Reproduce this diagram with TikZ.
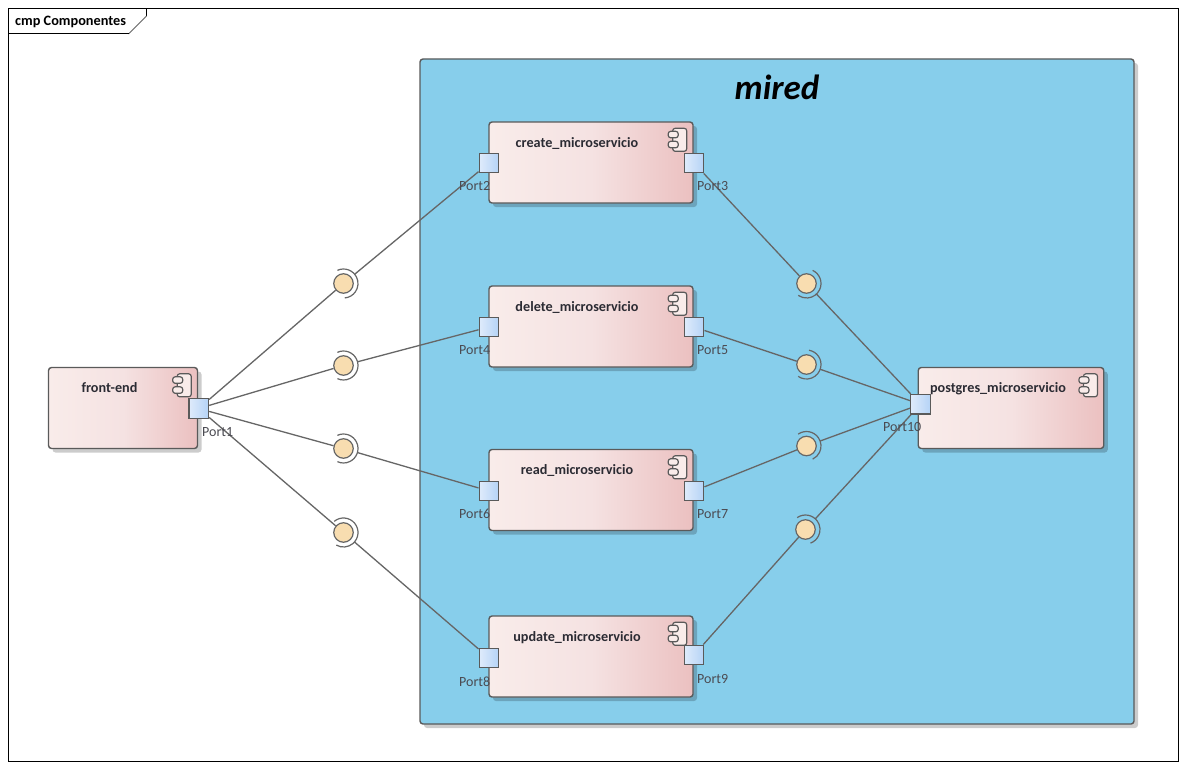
\documentclass[tikz,border=0pt]{standalone}
\usepackage{fontspec}
\setmainfont{Carlito}
\usetikzlibrary{calc,shadows}
\definecolor{edgeg}{HTML}{666666}
\definecolor{boxline}{HTML}{5A5A5A}
\definecolor{skyb}{HTML}{87CEEB}
\definecolor{pinkl}{HTML}{F9ECEA}
\definecolor{pinkm}{HTML}{F5E2E2}
\definecolor{pinkr}{HTML}{EBC0C0}
\definecolor{portl}{HTML}{DFEBFB}
\definecolor{portr}{HTML}{B5D3F6}
\definecolor{ballc}{HTML}{F8DDB0}
\definecolor{txt}{HTML}{2B2B33}
\tikzset{
  softshadow/.style={general shadow={fill=black,opacity=.2,shadow xshift=4pt,shadow yshift=-4pt,rounded corners=3pt}},
  compbox/.style={draw=boxline,line width=1.4pt,rounded corners=3pt,left color=pinkl,right color=pinkr,middle color=pinkm,minimum width=#1,minimum height=81pt,inner sep=0pt,softshadow},
  portbox/.style={draw=boxline,line width=1.4pt,left color=portl,right color=portr,minimum size=19.5pt,inner sep=0pt},
  ballnode/.style={circle,draw=edgeg,line width=1.2pt,fill=ballc,minimum size=19.5pt,inner sep=0pt},
  wire/.style={draw=edgeg,line width=1.3pt},
  sock/.style={draw=edgeg,line width=1.2pt},
  compname/.style={font=\bfseries\fontsize{14.2}{15}\selectfont,text=txt,inner sep=0pt},
  portlab/.style={font=\fontsize{14}{15}\selectfont,text=txt!85,inner sep=0pt},
  iconpart/.style={draw=boxline,line width=1.2pt,fill=pinkl,rounded corners=2.5pt}
}
\newcommand{\compicon}[1]{%
  \draw[iconpart] ($(#1.north east)+(-21,7)$) rectangle ($(#1.north east)+(-7,30)$);
  \draw[iconpart] ($(#1.north east)+(-25.5,10)$) rectangle ($(#1.north east)+(-15.5,16.5)$);
  \draw[iconpart] ($(#1.north east)+(-25.5,20)$) rectangle ($(#1.north east)+(-15.5,26.5)$);
}
\newcommand{\linkup}[3]{%
  \draw[wire] (#1) -- (#2);
  \draw[wire] ($(#2)!14.5pt!(#3)$) -- (#3);
}
\newcommand{\sockarc}[3]{%
  \draw[sock] ($(#1)+(#2:14.5pt)$) arc[start angle=#2,end angle=#3,radius=14.5pt];
}
\begin{document}
\begin{tikzpicture}[x=1pt,y=-1pt]
\useasboundingbox (0,0) rectangle (1186,768);
\fill[white] (0,0) rectangle (1186,768);
% frame
\node[draw=black,line width=1pt,minimum width=1169.5pt,minimum height=752pt,inner sep=0pt] (frame) at (593.25,385) {};
\draw[black,line width=1pt] (146.5,9) -- (146.5,16);
\draw[edgeg,line width=1pt] (146.5,16) -- (128.5,34);
\draw[black,line width=1pt] (128.5,34) -- (8.5,34);
\node[font=\bfseries\fontsize{14.3}{15}\selectfont,text=black,anchor=west,inner sep=0pt] (title) at (15,21.5) {cmp Componentes};
% container
\node[draw=boxline,line width=1.4pt,rounded corners=3pt,fill=skyb,minimum width=714pt,minimum height=665pt,inner sep=0pt,softshadow] (mired) at (777,391.5) {};
\node[font=\bfseries\itshape\fontsize{35}{38}\selectfont,text=black,inner sep=0pt] (miredlab) at (777,87) {mired};
% components
\node[compbox=149pt] (front) at (123,408) {};
\node[compbox=204pt] (create) at (591,162.5) {};
\node[compbox=204pt] (delete) at (591,326.5) {};
\node[compbox=204pt] (read) at (591,490) {};
\node[compbox=204pt] (update) at (591,656.5) {};
\node[compbox=185.5pt] (postgres) at (1011,408) {};
\foreach \c in {front,create,delete,read,update,postgres}{\compicon{\c}}
\node[compname] (frontlab) at (109.5,388) {front-end};
\node[compname] (createlab) at (577,143.5) {create\_microservicio};
\node[compname] (deletelab) at (577,307.5) {delete\_microservicio};
\node[compname] (readlab) at (577,470.5) {read\_microservicio};
\node[compname] (updatelab) at (577,637.5) {update\_microservicio};
\node[compname] (postgreslab) at (998,388.5) {postgres\_microservicio};
% balls
\node[ballnode] (b1) at (343.5,283.5) {};
\node[ballnode] (b2) at (343.5,365.5) {};
\node[ballnode] (b3) at (343.5,448.5) {};
\node[ballnode] (b4) at (343.5,532.5) {};
\node[ballnode] (b5) at (806.5,283.5) {};
\node[ballnode] (b6) at (806.5,364.5) {};
\node[ballnode] (b7) at (806.5,446) {};
\node[ballnode] (b8) at (805.5,529.5) {};
% ports
\node[portbox] (p1) at (198.7,408.5) {};
\node[portbox] (p2) at (489,163) {};
\node[portbox] (p3) at (694,163) {};
\node[portbox] (p4) at (489,327) {};
\node[portbox] (p5) at (694,327) {};
\node[portbox] (p6) at (489,491) {};
\node[portbox] (p7) at (694,491) {};
\node[portbox] (p8) at (489,658) {};
\node[portbox] (p9) at (694,655) {};
\node[portbox] (p10) at (920.5,404.3) {};
% connectors
\linkup{p1}{b1}{p2}
\linkup{p1}{b2}{p4}
\linkup{p1}{b3}{p6}
\linkup{p1}{b4}{p8}
\linkup{p3}{b5}{p10}
\linkup{p5}{b6}{p10}
\linkup{p7}{b7}{p10}
\linkup{p9}{b8}{p10}
% sockets
\sockarc{b1}{115}{-85}
\sockarc{b2}{115}{-115}
\sockarc{b3}{115}{-115}
\sockarc{b4}{130}{-120}
\sockarc{b5}{65}{-125}
\sockarc{b6}{80}{-125}
\sockarc{b7}{125}{-65}
\sockarc{b8}{125}{-70}
% port labels
\node[portlab,anchor=west] (l1) at (202,432.5) {Port1};
\node[portlab,anchor=west] (l2) at (459,186) {Port2};
\node[portlab,anchor=west] (l3) at (697,186) {Port3};
\node[portlab,anchor=west] (l4) at (459,350) {Port4};
\node[portlab,anchor=west] (l5) at (697,350) {Port5};
\node[portlab,anchor=west] (l6) at (459,514) {Port6};
\node[portlab,anchor=west] (l7) at (697,514) {Port7};
\node[portlab,anchor=west] (l8) at (459,682) {Port8};
\node[portlab,anchor=west] (l9) at (697,679) {Port9};
\node[portlab,anchor=west] (l10) at (883,427.5) {Port10};
\end{tikzpicture}
\end{document}
